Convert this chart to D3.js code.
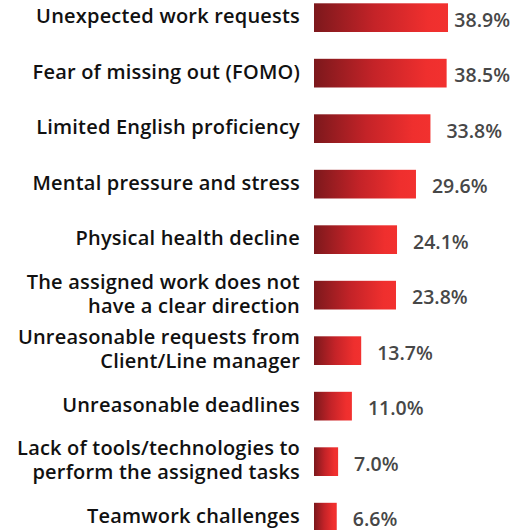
<!DOCTYPE html>
<html>
<head>
<meta charset="utf-8">
<script src="https://cdn.jsdelivr.net/npm/d3@7"></script>
<style>
  html, body { margin: 0; padding: 0; background: #fff; }
  svg { display: block; }
  .cat { font-family: "Open Sans", sans-serif; font-weight: 600; font-size: 20px; letter-spacing: 0.2px; fill: #111; }
  .val { font-family: "Open Sans", sans-serif; font-weight: 600; font-size: 19.5px; fill: #474747; }
</style>
</head>
<body>
<script>
const categories = [
  ["Unexpected work requests"],
  ["Fear of missing out (FOMO)"],
  ["Limited English proficiency"],
  ["Mental pressure and stress"],
  ["Physical health decline"],
  ["The assigned work does not", "have a clear direction"],
  ["Unreasonable requests from", "Client/Line manager"],
  ["Unreasonable deadlines"],
  ["Lack of tools/technologies to", "perform the assigned tasks"],
  ["Teamwork challenges"]
];
const values = [38.9, 38.5, 33.8, 29.6, 24.1, 23.8, 13.7, 11.0, 7.0, 6.6];
const labels = ["38.9%", "38.5%", "33.8%", "29.6%", "24.1%", "23.8%", "13.7%", "11.0%", "7.0%", "6.6%"];

const W = 517, H = 530;
const svg = d3.select("body").append("svg").attr("width", W).attr("height", H);

const defs = svg.append("defs");
const grad = defs.append("linearGradient").attr("id", "barGrad")
  .attr("x1", "0%").attr("x2", "100%").attr("y1", "0%").attr("y2", "0%");
grad.append("stop").attr("offset", "0%").attr("stop-color", "#7c181c");
grad.append("stop").attr("offset", "45%").attr("stop-color", "#c42328");
grad.append("stop").attr("offset", "85%").attr("stop-color", "#ef2f2e");
grad.append("stop").attr("offset", "100%").attr("stop-color", "#f2312f");

const idx = d3.range(values.length);
const y = d3.scaleBand().domain(idx).range([-10.1, 544.9]).paddingInner(0.483).paddingOuter(0.2415);
const x0 = 314;
const x = d3.scaleLinear().domain([0, 40]).range([x0, x0 + 137.8]);

const g = svg.append("g");

g.selectAll("rect.bar").data(idx).join("rect")
  .attr("class", "bar")
  .attr("x", x(0))
  .attr("y", i => y(i))
  .attr("width", i => x(values[i]) - x(0))
  .attr("height", y.bandwidth())
  .attr("fill", "url(#barGrad)");

// category labels (one text element per line)
const lh = 24;
const catLines = [];
idx.forEach(i => {
  const lines = categories[i];
  const cy = y(i) + y.bandwidth() / 2 - 2;
  lines.forEach((l, k) => {
    catLines.push({ text: l, y: cy + (k - (lines.length - 1) / 2) * lh });
  });
});
g.selectAll("text.cat").data(catLines).join("text")
  .attr("class", "cat")
  .attr("text-anchor", "end")
  .attr("dominant-baseline", "central")
  .attr("x", 300)
  .attr("y", d => d.y)
  .text(d => d.text);

// value labels
g.selectAll("text.val").data(idx).join("text")
  .attr("class", "val")
  .attr("dominant-baseline", "central")
  .attr("y", i => y(i) + y.bandwidth() / 2 + 1.5)
  .text(i => labels[i])
  .attr("x", function(i) {
    const w = this.getComputedTextLength();
    return Math.min(x(values[i]) + 16, 510 - w);
  });
</script>
</body>
</html>
